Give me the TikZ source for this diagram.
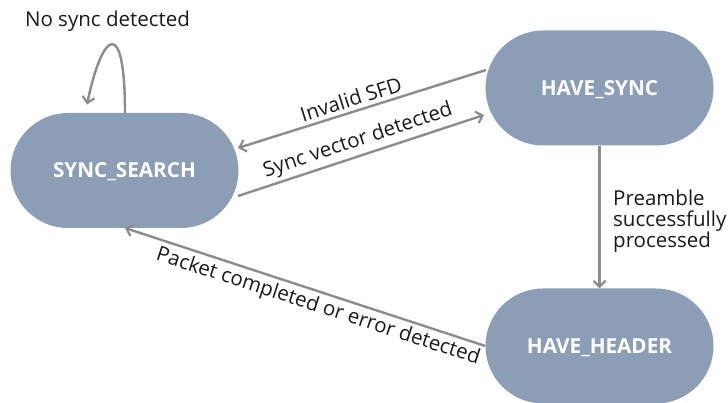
\documentclass[tikz,border=0pt]{standalone}
\usepackage{fontspec}
\setmainfont{Open Sans}
\usetikzlibrary{shapes.misc,arrows.meta,calc}
\definecolor{statefill}{HTML}{8B9EB5}
\definecolor{arrowgray}{HTML}{8C8C8C}
\definecolor{labeltext}{HTML}{1A1A1A}
\tikzset{
  statebox/.style={rounded rectangle, fill=statefill, draw=none,
    minimum width=228pt, minimum height=115pt, inner sep=0pt,
    text height=14.8pt, text depth=0pt,
    text=white, font=\fontsize{20.7}{24}\selectfont\bfseries},
  conn/.style={draw=arrowgray, line width=2.4pt,
    -{Straight Barb[length=6pt,width=12pt,line width=2.2pt]}},
  lbl/.style={text=labeltext, font=\fontsize{20.5}{20.8}\selectfont, inner sep=0pt}
}
\begin{document}
\begin{tikzpicture}[x=1pt,y=-1pt]
\useasboundingbox (0,0) rectangle (728,403);
\node[statebox] (ss) at (124.5,170.5) {SYNC\_SEARCH};
\node[statebox] (hs) at (599.5,88) {HAVE\_SYNC};
\node[statebox] (hh) at (599.5,346) {HAVE\_HEADER};

% self loop
\coordinate (loopend) at ($(ss.center)+(-37.5,-66)$);
\draw[conn] ($(ss.center)+(0.5,-57.5)$) .. controls ($(ss.center)+(0.5,-155)$) and ($(ss.center)+(-22,-140)$) .. (loopend);
\node[lbl] (lnosync) at (107.5,21) {No sync detected};

% Invalid SFD
\draw[conn] ($(hs.center)+(-113.5,-18)$) -- ($(ss.center)+(113.5,-22.5)$);
\node[lbl, rotate=17.5] (linvalid) at (351,99) {Invalid SFD};

% Sync vector detected
\draw[conn] ($(ss.center)+(113.5,25.5)$) -- ($(hs.center)+(-115.5,27)$);
\node[lbl, rotate=18.4] (lsync) at (358,141) {Sync vector detected};

% Preamble
\draw[conn] (hs.south) -- (hh.north);
\node[lbl, align=left, anchor=north west] (lpre) at (613,190) {Preamble\\successfully\\processed};

% Packet completed
\draw[conn] (hh.west) -- ($(ss.center)+(0.5,57.5)$);
\node[lbl, rotate=-18] (lpacket) at (318,307) {Packet completed or error detected};
\end{tikzpicture}
\end{document}
